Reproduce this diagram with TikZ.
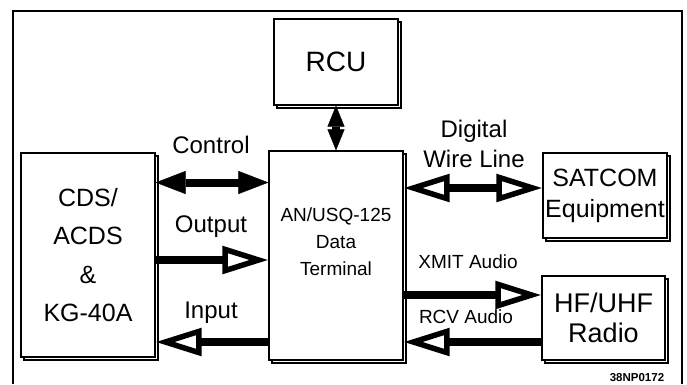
\documentclass[tikz,border=0pt]{standalone}
\usepackage{fontspec}
\setmainfont{Liberation Sans}
\usetikzlibrary{arrows.meta,shadows,calc}

\tikzset{
  unit/.style={draw, line width=1.2pt, fill=white, align=center, inner sep=0pt,
    copy shadow={shadow xshift=3pt, shadow yshift=-3pt}},
  lbl/.style={font=\fontsize{24}{30}\selectfont, inner sep=0pt, align=center},
  smalllbl/.style={font=\fontsize{19}{24}\selectfont, inner sep=0pt},
  fatboth/.style={line width=8pt, {Triangle[length=30pt, width=23pt, line width=0.4pt]}-{Triangle[length=30pt, width=23pt, line width=0.4pt]}},
  fatvert/.style={line width=8pt, {Triangle[length=21pt, width=17pt, line width=0.4pt]}-{Triangle[length=21pt, width=17pt, line width=0.4pt]}},
  hollow/.style={line width=8pt, -{Triangle[open, length=46pt, width=27pt, line width=5.5pt]}},
  hollowboth/.style={line width=8pt, {Triangle[open, length=46pt, width=27pt, line width=5.5pt]}-{Triangle[open, length=46pt, width=27pt, line width=5.5pt]}}
}

\begin{document}
\begin{tikzpicture}[x=1pt, y=-1pt]
  \useasboundingbox (0,0) rectangle (687,384);
  % outer frame, open at the bottom
  \draw[line width=2pt] (12.5,384) -- (12.5,11) -- (682,11) -- (682,384);

  % units
  \node[unit, minimum width=124pt, minimum height=86pt, font=\fontsize{28}{30}\selectfont] (rcu) at (336,62) {RCU};
  \node[unit, minimum width=134pt, minimum height=204pt, font=\fontsize{25}{38.5}\selectfont] (cds) at (88,255) {CDS/\\ACDS\\\&\\KG-40A};
  \node[unit, minimum width=134pt, minimum height=209pt] (term) at (336,255.5) {};
  \node[smalllbl, align=center, font=\fontsize{19}{27}\selectfont] (termtxt) at (336,241.5) {AN/USQ-125\\Data\\Terminal};
  \node[unit, minimum width=124pt, minimum height=85pt, font=\fontsize{25}{31}\selectfont] (satcom) at (605,195.5) {SATCOM\\Equipment};
  \node[unit, minimum width=123pt, minimum height=84pt, font=\fontsize{27}{30}\selectfont] (radio) at (603.5,318) {HF/UHF\\Radio};

  % rows of the links
  \coordinate (ctlrow) at (0,182.5);
  \coordinate (outrow) at (0,260);
  \coordinate (inrow) at (0,342);
  \coordinate (wirerow) at (0,188);
  \coordinate (xmitrow) at (0,295);
  \coordinate (rcvrow) at (0,342);

  % links
  \draw[fatvert] (rcu.south) -- (term.north);
  \draw[fatboth] (cds.east |- ctlrow) -- (term.west |- ctlrow);
  \draw[hollow] (cds.east |- outrow) -- (term.west |- outrow);
  \draw[hollow] (term.west |- inrow) -- (cds.east |- inrow);
  \draw[hollowboth] (term.east |- wirerow) -- (satcom.west |- wirerow);
  \draw[hollow] (term.east |- xmitrow) -- (radio.west |- xmitrow);
  \draw[hollow] (radio.west |- rcvrow) -- (term.east |- rcvrow);

  % labels
  \node[lbl, anchor=base] (ctl) at (211,153) {Control};
  \node[lbl, anchor=base] (out) at (211,232) {Output};
  \node[lbl, anchor=base] (in) at (211,318) {Input};
  \node[lbl] (wire) at (474,144) {Digital\\Wire Line};
  \node[smalllbl, anchor=base] (xmit) at (468,268) {XMIT Audio};
  \node[smalllbl, anchor=base] (rcv) at (466,323) {RCV Audio};
  \node[inner sep=0pt, anchor=base, font=\bfseries\fontsize{11.5}{13}\selectfont] (fig) at (637,381) {38NP0172};
\end{tikzpicture}
\end{document}
